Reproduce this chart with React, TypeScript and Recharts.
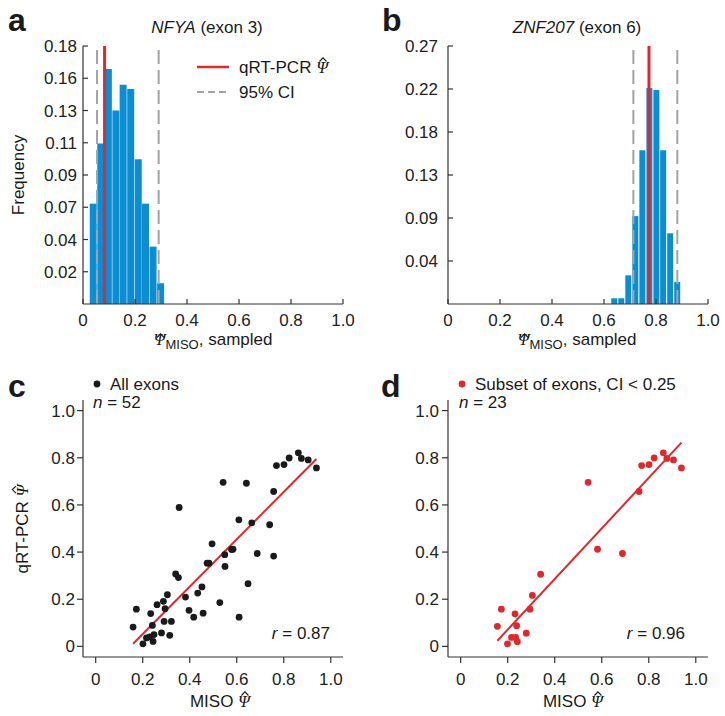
import React from "react";
import {
  BarChart,
  Bar,
  XAxis,
  YAxis,
  ReferenceLine,
  ScatterChart,
  Scatter,
} from "recharts";

// panel a: NFYA (exon 3) sampled psi histogram
const nfyaBins = [0.040, 0.069, 0.098, 0.127, 0.155, 0.184, 0.213, 0.241, 0.270, 0.299];
const nfyaFreq = [0.070, 0.112, 0.164, 0.135, 0.153, 0.150, 0.101, 0.070, 0.040, 0.0145];
const nfyaPcr = 0.083;
const nfyaCi = [0.054, 0.291];
const nfyaTicks = [0.0225, 0.045, 0.0675, 0.09, 0.1125, 0.135, 0.1575, 0.18];
const nfyaTickLabels = ["0.02", "0.04", "0.07", "0.09", "0.11", "0.13", "0.16", "0.18"];

// panel b: ZNF207 (exon 6)
const znfBins = [0.641, 0.668, 0.695, 0.722, 0.749, 0.776, 0.803, 0.829, 0.856, 0.883];
const znfFreq = [0.006, 0.006, 0.030, 0.092, 0.161, 0.226, 0.224, 0.161, 0.074, 0.023];
const znfPcr = 0.773;
const znfCi = [0.713, 0.882];
const znfTicks = [0.045, 0.09, 0.135, 0.18, 0.225, 0.27];
const znfTickLabels = ["0.04", "0.09", "0.13", "0.18", "0.22", "0.27"];

const psiTicks = [0, 0.2, 0.4, 0.6, 0.8, 1.0];
const psiTickLabels = ["0", "0.2", "0.4", "0.6", "0.8", "1.0"];

// panel c: all exons, MISO vs qRT-PCR
const allMiso = [
  0.159, 0.173, 0.201, 0.216, 0.230, 0.234, 0.241, 0.244, 0.248, 0.261,
  0.280, 0.288, 0.291, 0.295, 0.305, 0.315, 0.322, 0.340, 0.352, 0.355,
  0.382, 0.397, 0.417, 0.434, 0.452, 0.457, 0.474, 0.482, 0.495, 0.528,
  0.542, 0.549, 0.550, 0.578, 0.584, 0.609, 0.610, 0.641, 0.648, 0.664,
  0.687, 0.740, 0.757, 0.757, 0.769, 0.801, 0.823, 0.862, 0.875, 0.904,
  0.939,
];
const allPcr = [
  0.082, 0.158, 0.011, 0.036, 0.040, 0.139, 0.089, 0.021, 0.050, 0.177,
  0.057, 0.191, 0.106, 0.160, 0.219, 0.047, 0.106, 0.307, 0.292, 0.589,
  0.209, 0.153, 0.124, 0.226, 0.252, 0.141, 0.353, 0.353, 0.435, 0.186,
  0.696, 0.389, 0.339, 0.411, 0.412, 0.537, 0.124, 0.692, 0.266, 0.524,
  0.394, 0.516, 0.657, 0.383, 0.767, 0.771, 0.799, 0.821, 0.797, 0.791,
  0.757,
];
const allFit = [
  { x: 0.159, y: 0.011 },
  { x: 0.939, y: 0.795 },
];

// panel d: subset with CI < 0.25
const subMiso = [
  0.156, 0.173, 0.199, 0.216, 0.231, 0.234, 0.238, 0.241, 0.279, 0.295,
  0.305, 0.340, 0.542, 0.582, 0.688, 0.759, 0.770, 0.801, 0.823, 0.862,
  0.877, 0.905, 0.939,
];
const subPcr = [
  0.085, 0.158, 0.011, 0.038, 0.138, 0.038, 0.088, 0.020, 0.056, 0.158,
  0.216, 0.306, 0.696, 0.412, 0.394, 0.657, 0.767, 0.771, 0.799, 0.821,
  0.797, 0.791, 0.757,
];
const subFit = [
  { x: 0.156, y: 0.024 },
  { x: 0.939, y: 0.864 },
];

const font = '"Liberation Sans", Arial, sans-serif';
const tickStyle = { fontSize: 17, fill: "#222", fontFamily: font };
const axisStroke = { stroke: "#333", strokeWidth: 1.2 };
const BLUE = "#0b8dd3";
const RED = "#e4262b";
const GREY = "#a3a3a3";

// psi with a drawn hat on top
const Psi = () => (
  <span
    style={{
      position: "relative",
      display: "inline-block",
      fontFamily: '"Liberation Serif", "DejaVu Serif", serif',
      fontStyle: "italic",
    }}
  >
    {"\u03A8"}
    <svg
      width={8}
      height={5}
      style={{ position: "absolute", left: "58%", top: -2, transform: "translateX(-50%)", overflow: "visible" }}
    >
      <polyline points="0.5,4.5 4,0.8 7.5,4.5" fill="none" stroke="#1a1a1a" strokeWidth={1.1} />
    </svg>
  </span>
);

const Txt: React.FC<{ x: number; y: number; size?: number; lh?: number; anchor?: string; style?: React.CSSProperties; children: React.ReactNode }> = ({ x, y, size = 17, lh, anchor = "left", style, children }) => {
  // y = baseline; lh = line height in px (defaults to font size)
  const line = lh ?? size;
  const base = (line - 1.117 * size) / 2 + 0.905 * size;
  const shift = anchor === "center" ? "translateX(-50%)" : anchor === "right" ? "translateX(-100%)" : "";
  return (
    <div
      style={{
        position: "absolute",
        left: x,
        top: y - base,
        fontSize: size,
        lineHeight: `${line}px`,
        fontFamily: font,
        color: "#1a1a1a",
        whiteSpace: "nowrap",
        transform: shift,
        ...style,
      }}
    >
      {children}
    </div>
  );
};

type HistProps = {
  bins: number[];
  freq: number[];
  yMax: number;
  yTicks: number[];
  yLabels: string[];
  pcr: number;
  ci: number[];
  width: number;
  yWidth: number;
  yTickMargin: number;
  barSize: number;
};

const Histogram: React.FC<HistProps> = ({ bins, freq, yMax, yTicks, yLabels, pcr, ci, width, yWidth, yTickMargin, barSize }) => {
  const rows = bins.map((b, i) => ({ x: b, f: freq[i] }));
  return (
    <BarChart width={width} height={360} data={rows} margin={{ top: 46, right: width - yWidth - 260, left: 0, bottom: 0 }}>
      <XAxis
        dataKey="x"
        type="number"
        domain={[0, 1]}
        ticks={psiTicks}
        interval={0}
        tickFormatter={(v: number) => psiTickLabels[psiTicks.indexOf(v)]}
        height={56}
        tickSize={-5}
        tickMargin={15}
        axisLine={axisStroke}
        tickLine={axisStroke}
        tick={tickStyle}
      />
      <YAxis
        type="number"
        domain={[0, yMax]}
        ticks={yTicks}
        interval={0}
        tickFormatter={(v: number) => yLabels[yTicks.indexOf(v)]}
        width={yWidth}
        tickSize={-5}
        tickMargin={yTickMargin}
        axisLine={axisStroke}
        tickLine={axisStroke}
        tick={tickStyle}
      />
      <Bar dataKey="f" fill={BLUE} barSize={barSize} isAnimationActive={false} />
      {ci.map((c) => (
        <ReferenceLine key={c} x={c} stroke={GREY} strokeWidth={2} strokeDasharray="14 6" />
      ))}
      <ReferenceLine x={pcr} stroke={RED} strokeWidth={3} />
    </BarChart>
  );
};

type ScatProps = {
  xs: number[];
  ys: number[];
  fit: { x: number; y: number }[];
  color: string;
  width: number;
  yWidth: number;
  yTickMargin: number;
};

const Dot = (color: string) => (props: any) => (
  <circle cx={props.cx} cy={props.cy} r={3.4} fill={color} />
);

const ScatterPanel: React.FC<ScatProps> = ({ xs, ys, fit, color, width, yWidth, yTickMargin }) => {
  const rows = xs.map((x, i) => ({ x, y: ys[i] }));
  const fmt = (v: number) => psiTickLabels[psiTicks.indexOf(v)];
  return (
    <ScatterChart width={width} height={356} margin={{ top: 40, right: width - yWidth - 260, left: 0, bottom: 0 }}>
      <XAxis
        dataKey="x"
        type="number"
        domain={[-0.054, 1.052]}
        ticks={psiTicks}
        interval={0}
        tickFormatter={fmt}
        height={59}
        tickSize={6}
        tickMargin={10}
        axisLine={axisStroke}
        tickLine={axisStroke}
        tick={tickStyle}
        allowDataOverflow
      />
      <YAxis
        dataKey="y"
        type="number"
        domain={[-0.045, 1.045]}
        ticks={psiTicks}
        interval={0}
        tickFormatter={fmt}
        width={yWidth}
        tickSize={6}
        tickMargin={yTickMargin}
        axisLine={axisStroke}
        tickLine={axisStroke}
        tick={tickStyle}
        allowDataOverflow
      />
      <Scatter data={rows} shape={Dot(color)} isAnimationActive={false} />
      <ReferenceLine segment={fit} stroke={RED} strokeWidth={2} />
    </ScatterChart>
  );
};

const rotated: React.CSSProperties = {
  position: "absolute",
  transform: "translate(-50%, -50%) rotate(-90deg)",
  fontSize: 17,
  lineHeight: 1,
  fontFamily: font,
  color: "#1a1a1a",
  whiteSpace: "nowrap",
};

const App: React.FC = () => {
  return (
    <div style={{ position: "absolute", left: 0, top: 0, width: 725, height: 716, background: "#fff", fontFamily: font }}>
      <div style={{ position: "absolute", left: 0, top: 0 }}>
        <Histogram bins={nfyaBins} freq={nfyaFreq} yMax={0.18} yTicks={nfyaTicks} yLabels={nfyaTickLabels} pcr={nfyaPcr} ci={nfyaCi} width={360} yWidth={83} yTickMargin={11} barSize={7} />
      </div>
      <div style={{ position: "absolute", left: 360, top: 0 }}>
        <Histogram bins={znfBins} freq={znfFreq} yMax={0.27} yTicks={znfTicks} yLabels={znfTickLabels} pcr={znfPcr} ci={znfCi} width={365} yWidth={88} yTickMargin={15} barSize={6} />
      </div>
      <div style={{ position: "absolute", left: 0, top: 360 }}>
        <ScatterPanel xs={allMiso} ys={allPcr} fit={allFit} color="#1a1a1a" width={360} yWidth={83} yTickMargin={2} />
      </div>
      <div style={{ position: "absolute", left: 360, top: 360 }}>
        <ScatterPanel xs={subMiso} ys={subPcr} fit={subFit} color={RED} width={365} yWidth={88} yTickMargin={3} />
      </div>

      {/* panel letters */}
      <Txt x={8} y={31} size={32} style={{ fontWeight: 700 }}>a</Txt>
      <Txt x={382} y={31} size={32} style={{ fontWeight: 700 }}>b</Txt>
      <Txt x={8} y={397} size={32} style={{ fontWeight: 700 }}>c</Txt>
      <Txt x={381} y={397} size={32} style={{ fontWeight: 700 }}>d</Txt>

      {/* titles */}
      <Txt x={207} y={33} anchor="center"><i>NFYA</i> (exon 3)</Txt>
      <Txt x={577} y={33} anchor="center"><i>ZNF207</i> (exon 6)</Txt>

      {/* legend panel a */}
      <svg style={{ position: "absolute", left: 196, top: 60 }} width={36} height={40}>
        <line x1={1} y1={7} x2={33} y2={7} stroke={RED} strokeWidth={2.5} />
        <line x1={1} y1={32} x2={33} y2={32} stroke={GREY} strokeWidth={2} strokeDasharray="7 4" />
      </svg>
      <Txt x={239} y={73}>qRT-PCR <Psi /></Txt>
      <Txt x={239} y={98}>95% CI</Txt>

      {/* histogram axis titles */}
      <Txt x={213} y={345.5} lh={10} anchor="center"><Psi /><sub style={{ fontSize: 13, lineHeight: 0 }}>MISO</sub>, sampled</Txt>
      <Txt x={577} y={345.5} lh={10} anchor="center"><Psi /><sub style={{ fontSize: 13, lineHeight: 0 }}>MISO</sub>, sampled</Txt>
      <div style={{ ...rotated, left: 18, top: 175 }}>Frequency</div>

      {/* scatter legends */}
      <svg style={{ position: "absolute", left: 92, top: 379 }} width={10} height={10}>
        <circle cx={5} cy={5} r={3.4} fill="#1a1a1a" />
      </svg>
      <Txt x={110} y={390}>All exons</Txt>
      <svg style={{ position: "absolute", left: 457, top: 379 }} width={10} height={10}>
        <circle cx={5} cy={5} r={3.4} fill={RED} />
      </svg>
      <Txt x={475} y={390}>Subset of exons, CI &lt; 0.25</Txt>

      <Txt x={93} y={408}><i>n</i> = 52</Txt>
      <Txt x={459} y={408}><i>n</i> = 23</Txt>
      <Txt x={330} y={639} anchor="right"><i>r</i> = 0.87</Txt>
      <Txt x={685} y={639} anchor="right"><i>r</i> = 0.96</Txt>

      {/* scatter axis titles */}
      <Txt x={220} y={707} anchor="center">MISO <Psi /></Txt>
      <Txt x={573} y={707} anchor="center">MISO <Psi /></Txt>
      <div style={{ ...rotated, left: 22, top: 529 }}>qRT-PCR <Psi /></div>
    </div>
  );
};

export default App;
